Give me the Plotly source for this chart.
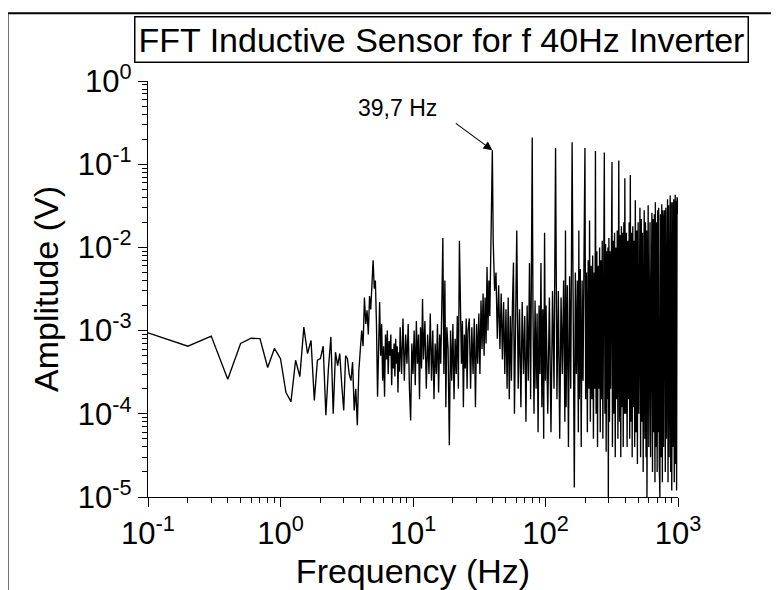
import numpy as np
import plotly.graph_objects as go

# FFT spectrum, split into frequency bands

freq_low = [0.1, 0.2, 0.3, 0.4, 0.5, 0.6, 0.7, 0.8, 0.9, 1.0,
            1.1, 1.2, 1.3, 1.4, 1.5, 1.6, 1.7, 1.8, 1.9, 2.0,
            2.1, 2.2, 2.3, 2.4, 2.5, 2.6, 2.7, 2.8, 2.9, 3.0,
            3.1, 3.2, 3.3, 3.4, 3.5, 3.6, 3.7, 3.8, 3.9, 4.0,
            4.1, 4.2, 4.3, 4.4, 4.5, 4.6, 4.7, 4.8, 4.9, 5.0,
            5.1, 5.2, 5.3, 5.4]
amp_low = [9.4e-4, 6.5e-4, 8.6e-4, 2.6e-4, 7.0e-4, 8.1e-4, 8.0e-4, 3.6e-4, 6.1e-4, 4.6e-4,
           1.8e-4, 1.4e-4, 4.4e-4, 2.8e-4, 1.1e-3, 5.3e-4, 7.6e-4, 1.45e-4, 4.4e-4, 4.6e-4,
           6.5e-4, 9.6e-5, 3.5e-4, 8.4e-4, 1.0e-4, 5.5e-4, 3.8e-4, 5.3e-4, 2.2e-4, 1.1e-4,
           5.0e-4, 4.6e-4, 3.0e-4, 2.5e-4, 4.2e-4, 1.1e-4, 2.0e-4, 7.3e-5, 3.3e-4, 6.0e-4,
           1.0e-3, 6.5e-4, 2.5e-3, 1.2e-3, 1.75e-3, 9.0e-4, 2.6e-3, 1.8e-3, 3.5e-3, 7.0e-3,
           3.2e-3, 4.0e-3, 1.2e-3, 1.6e-4]

freq_mid = [5.5, 5.6, 5.7, 5.8, 5.9, 6.0, 6.1, 6.2, 6.3, 6.4, 6.5, 6.6, 6.7,
            6.8, 6.9, 7.0, 7.1, 7.2, 7.3, 7.4, 7.5, 7.6, 7.7, 7.8, 7.9, 8.0,
            8.2, 8.4, 8.6, 8.8, 9.0, 9.2, 9.4, 9.6, 9.8, 10.0,
            10.2, 10.4, 10.6, 10.8, 11.0, 11.2, 11.4, 11.6, 11.8, 12.0,
            12.3, 12.6, 12.9, 13.2, 13.5, 13.8, 14.1, 14.4, 14.7, 15.0,
            15.3, 15.6, 15.9, 16.2, 16.5, 16.8, 17.1, 17.4, 17.7, 18.0,
            18.4, 18.8, 19.2, 19.6, 20.0, 20.4, 20.8, 21.2, 21.6, 22.0,
            22.4, 22.8, 23.2, 23.6, 24.0, 24.4, 24.8, 25.2, 25.6, 26.0,
            26.6, 27.2, 27.8, 28.4, 29.0, 29.6, 30.2, 30.8, 31.4, 32.0, 32.6,
            33.2, 33.8, 34.4, 35.0, 35.6, 36.2, 36.8, 37.4, 38.0, 38.6, 39.2,
            39.7]
amp_mid = [6.0e-4, 2.2e-3, 5.0e-4, 1.2e-3, 2.5e-4, 6.5e-4, 1.6e-4, 9.0e-4, 4.5e-4, 1.0e-3, 3.0e-4, 7.5e-4, 5.0e-4,
           9.0e-4, 2.2e-4, 6.0e-4, 3.5e-4, 7.0e-4, 2.8e-4, 8.0e-4, 4.0e-4, 6.5e-4, 1.8e-4, 5.5e-4, 3.2e-4, 1.1e-3,
           3.0e-4, 1.4e-3, 2.5e-4, 9.0e-4, 4.0e-4, 1.2e-3, 2.0e-4, 8.3e-5, 7.0e-4, 3.0e-4,
           1.0e-3, 2.2e-4, 1.3e-3, 4.0e-4, 9.0e-4, 1.5e-4, 1.1e-3, 3.5e-4, 2.4e-3, 4.5e-4,
           1.3e-3, 2.0e-4, 9.0e-4, 3.0e-4, 1.6e-3, 2.5e-4, 1.0e-3, 1.5e-4, 7.0e-4, 3.0e-4,
           1.2e-3, 1.8e-4, 9.0e-4, 4.0e-4, 2.0e-3, 1.3e-2, 3.0e-4, 4.0e-3, 1.2e-4, 1.1e-3,
           6.0e-4, 4.2e-5, 1.0e-3, 2.5e-4, 1.2e-3, 1.5e-4, 8.0e-4, 3.0e-4, 1.5e-3, 2.0e-4,
           1.2e-2, 2.5e-3, 4.0e-4, 1.3e-3, 1.2e-4, 9.0e-4, 3.5e-4, 1.4e-3, 2.0e-4, 1.0e-3,
           1.4e-3, 2.0e-4, 1.1e-3, 3.0e-4, 1.4e-3, 1.2e-4, 1.2e-3, 4.0e-4, 1.6e-3, 3.0e-4, 2.3e-3,
           6.0e-4, 2.8e-3, 5.0e-4, 2.5e-3, 7.0e-4, 5.8e-3, 1.0e-3, 4.0e-3, 1.5e-3, 6.5e-3, 1.6e-2,
           0.147]

freq_high = [40.3, 41.3, 42.3, 43.3, 44.3, 45.3, 46.3, 47.3, 48.3, 49.3,
             50.3, 51.3, 52.3, 53.3, 54.3, 55.3, 56.3, 57.3, 58.3, 59.3,
             60.7, 62.2, 63.7, 65.2, 66.7, 68.2, 69.7, 71.2, 72.7, 74.2,
             75.7, 77.2, 78.4, 79.4, 80.4, 81.9, 83.4, 84.9, 86.4, 87.9,
             89.4, 90.9, 92.4, 93.9, 95.4, 96.9, 98.4, 99.9]
amp_high = [1.2e-2, 3.0e-3, 5.0e-3, 8.0e-4, 3.5e-3, 6.0e-4, 2.8e-3, 4.5e-4, 2.2e-3, 3.0e-4,
            1.8e-3, 2.0e-4, 2.5e-3, 1.5e-4, 1.5e-3, 2.5e-4, 2.0e-3, 6.6e-3, 1.0e-4, 1.5e-3,
            1.6e-2, 2.0e-4, 1.8e-3, 1.2e-4, 2.2e-3, 3.0e-4, 1.5e-3, 8.0e-5, 2.0e-3, 2.5e-4,
            6.5e-3, 1.5e-4, 2.5e-3, 0.209, 1.8e-3, 1.0e-4, 2.3e-3, 2.0e-4, 1.6e-3, 6.0e-5,
            2.0e-3, 3.0e-4, 6.5e-3, 1.2e-4, 1.8e-3, 5.0e-5, 1.5e-2, 2.5e-4]

freq_harm = [101, 104, 107, 110, 113, 116, 119.1, 122, 125, 128,
             131, 134, 137, 140, 141.5, 143, 146, 149, 152, 155,
             158.8, 162, 165, 168, 171, 174, 177, 178.5, 180, 183,
             186, 189, 192, 195, 198.5,
             201, 204, 207, 210, 213, 215, 218, 221, 224, 227,
             230, 233, 236, 238.2, 241, 244, 247, 250, 253, 256,
             259, 262, 265, 268, 271, 274, 277.9, 281, 284, 287,
             290, 293, 296, 298, 301, 304, 307, 310, 313, 317.6,
             320, 324, 328, 332, 336, 340, 344, 348, 352, 357.3,
             362, 366, 370, 374, 378, 382, 386, 390, 394, 397]
amp_harm = [2.0e-3, 1.0e-4, 2.5e-3, 6.0e-5, 3.0e-3, 2.0e-4, 0.157, 1.5e-4, 3.0e-3, 5.0e-5,
            2.5e-3, 3.0e-4, 4.0e-3, 8.0e-5, 1.6e-2, 1.2e-4, 3.5e-3, 4.0e-5, 4.5e-3, 2.0e-4,
            0.183, 1.0e-4, 1.3e-5, 5.0e-3, 3.0e-4, 4.0e-3, 6.0e-5, 1.6e-2, 1.5e-4, 5.5e-3,
            4.0e-5, 4.0e-3, 2.5e-4, 6.0e-3, 0.157,
            1.5e-4, 5.0e-3, 6.0e-5, 7.0e-3, 2.0e-4, 2.1e-2, 8.0e-5, 6.0e-3, 1.5e-4, 8.0e-3,
            5.0e-5, 5.0e-3, 2.0e-4, 0.144, 1.0e-4, 9.0e-3, 4.0e-5, 6.0e-3, 2.0e-4, 1.0e-2,
            6.0e-5, 7.0e-3, 1.5e-4, 1.2e-2, 5.0e-5, 8.0e-3, 0.138, 1.0e-4, 1.1e-2, 3.5e-5,
            9.0e-3, 1.5e-4, 1.0e-2, 1.0e-5, 1.3e-2, 8.0e-5, 9.0e-3, 2.0e-4, 1.4e-2, 0.106,
            4.0e-5, 1.2e-2, 1.0e-4, 1.5e-2, 3.0e-5, 1.0e-2, 1.5e-4, 1.6e-2, 5.0e-5, 0.111,
            8.0e-5, 1.4e-2, 3.0e-5, 1.8e-2, 1.2e-4, 1.5e-2, 4.0e-5, 2.0e-2, 1.0e-4, 0.068]

freq_top = [403, 408, 413, 418, 423, 428, 432, 436.7, 441, 446,
            451, 456, 461, 466, 471, 476.4, 482, 488, 494, 500,
            506, 511, 516.1, 522, 528, 534, 540, 546, 551, 555.8,
            562, 568, 574, 580, 583, 589, 595.5, 602, 609, 615,
            621, 628, 635.2, 642, 649, 656, 663, 670, 674.9, 682,
            689, 696, 703, 709, 714.6, 722, 730, 738, 746, 754.3,
            762, 770, 778, 786, 794, 802, 810, 818, 826, 833.7,
            841, 849, 857, 865, 873.4, 881, 889, 897, 905, 913.1,
            921, 929, 937, 945, 952.8, 960, 968, 976, 984, 992.5,
            1000]
amp_top = [1.0e-4, 1.5e-2, 4.0e-5, 1.2e-2, 1.5e-4, 2.0e-2, 5.0e-5, 0.074, 8.0e-5, 1.5e-2,
           3.0e-5, 1.8e-2, 1.2e-4, 1.2e-2, 4.0e-5, 0.037, 6.0e-5, 1.6e-2, 2.5e-5, 2.0e-2,
           1.0e-4, 1.4e-2, 0.03, 3.0e-5, 2.2e-2, 8.0e-5, 1.5e-2, 2.0e-5, 1.8e-2, 0.028,
           5.0e-5, 2.0e-2, 3.0e-5, 1.6e-2, 1.0e-5, 2.4e-2, 0.032, 4.0e-5, 1.8e-2, 2.0e-2,
           3.0e-5, 1.5e-2, 0.026, 2.0e-5, 2.2e-2, 6.0e-5, 2.5e-2, 1.5e-5, 0.035, 4.0e-5,
           2.0e-2, 2.0e-5, 2.8e-2, 6.0e-5, 0.03, 2.5e-5, 1.0e-5, 2.5e-2, 3.0e-5, 0.033,
           1.5e-5, 2.8e-2, 4.0e-5, 2.2e-2, 0.028, 2.0e-5, 3.0e-2, 5.0e-5, 2.6e-2, 0.038,
           1.5e-5, 3.2e-2, 3.0e-5, 2.8e-2, 0.042, 2.0e-5, 3.5e-2, 1.2e-5, 3.0e-2, 0.035,
           4.0e-5, 3.8e-2, 1.5e-5, 3.2e-2, 0.043, 2.5e-5, 3.6e-2, 1.2e-5, 4.0e-2, 0.038,
           2.5e-2]

peak_freq = 39.7
peak_amp = 0.147

x_tick_vals = [0.1, 1, 10, 100, 1000]
x_tick_text = ["10<sup>-1</sup>", "10<sup>0</sup>", "10<sup>1</sup>", "10<sup>2</sup>", "10<sup>3</sup>"]
y_tick_vals = [1e-5, 1e-4, 1e-3, 1e-2, 1e-1, 1]
y_tick_text = ["10<sup>-5</sup>", "10<sup>-4</sup>", "10<sup>-3</sup>", "10<sup>-2</sup>", "10<sup>-1</sup>", "10<sup>0</sup>"]


def minor_ticks(lo, hi):
    return [m * 10.0 ** e for e in range(lo, hi) for m in range(2, 10)]


freq = freq_low + freq_mid + freq_high + freq_harm + freq_top
amp = amp_low + amp_mid + amp_high + amp_harm + amp_top
assert len(freq) == len(amp)

FONT = "Liberation Sans, Arial, sans-serif"

fig = go.Figure()
fig.add_trace(go.Scatter(x=freq, y=amp, mode="lines",
                         line=dict(color="black", width=1.35),
                         showlegend=False, hoverinfo="skip"))

axis_style = dict(type="log", showline=True, linecolor="black", linewidth=1.3,
                  showgrid=False, zeroline=False, ticks="outside", ticklen=9,
                  tickwidth=1.2, tickcolor="black", tickmode="array",
                  tickfont=dict(family=FONT, size=31, color="black"),
                  title_font=dict(family=FONT, size=34, color="black"))

fig.update_xaxes(axis_style, range=[-1, 3], tickvals=x_tick_vals, ticktext=x_tick_text,
                 minor=dict(tickmode="array", tickvals=minor_ticks(-1, 3), ticks="outside",
                            ticklen=5, tickcolor="black", tickwidth=1, showgrid=False),
                 title=dict(text="Frequency (Hz)", standoff=8))
fig.update_yaxes(axis_style, range=[-5, 0], tickvals=y_tick_vals, ticktext=y_tick_text,
                 minor=dict(tickmode="array", tickvals=minor_ticks(-5, 0), ticks="outside",
                            ticklen=5, tickcolor="black", tickwidth=1, showgrid=False),
                 title=dict(text="Amplitude (V)", standoff=8))

# the page body adds an 8px offset, so the margins are shifted to compensate
fig.update_layout(width=779, height=590, margin=dict(l=140, r=109, t=73, b=101),
                  paper_bgcolor="white", plot_bgcolor="white",
                  font=dict(family=FONT, color="black"))

# boxed title
fig.add_annotation(text="FFT Inductive Sensor for f 40Hz Inverter", xref="paper", yref="paper",
                   x=0.553, y=1.10, xanchor="center", yanchor="middle", showarrow=False,
                   font=dict(family=FONT, size=34, color="black"),
                   bordercolor="black", borderwidth=1.5, borderpad=3, bgcolor="white")

# peak label and arrow
fig.add_annotation(text="39,7 Hz", x=np.log10(7.7), y=np.log10(0.48), showarrow=False,
                   font=dict(family=FONT, size=23, color="black"))
fig.add_annotation(text="", x=np.log10(peak_freq), y=np.log10(peak_amp), ax=-38, ay=-28,
                   showarrow=True, arrowhead=2, arrowsize=1.6, arrowwidth=1.1,
                   arrowcolor="black", standoff=0)

# outer frame of the figure (top and left edges)
fig.add_shape(type="line", xref="paper", yref="paper", x0=-0.265, x1=1.25, y0=1.163, y1=1.163,
              line=dict(color="black", width=2))
fig.add_shape(type="line", xref="paper", yref="paper", x0=-0.265, x1=-0.265, y0=1.163, y1=-0.3,
              line=dict(color="black", width=2))

fig.write_html("out.html")
